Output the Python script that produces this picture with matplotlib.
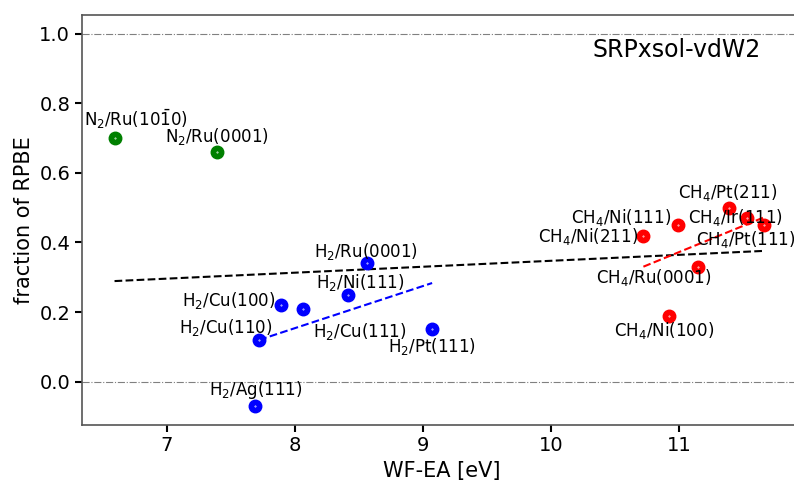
import matplotlib
matplotlib.use("Agg")
import matplotlib.pyplot as plt
import numpy as np

# ---------------- data ----------------
n2_labels = [r"N$_2$/Ru(10$\bar{1}$0)", r"N$_2$/Ru(0001)"]
n2_x = [6.59, 7.39]
n2_y = [0.70, 0.66]

h2_labels = [r"H$_2$/Ru(0001)", r"H$_2$/Ni(111)", r"H$_2$/Cu(100)", r"H$_2$/Cu(111)",
             r"H$_2$/Cu(110)", r"H$_2$/Pt(111)", r"H$_2$/Ag(111)"]
h2_x = [8.56, 8.41, 7.89, 8.06, 7.72, 9.07, 7.69]
h2_y = [0.34, 0.25, 0.22, 0.21, 0.12, 0.15, -0.07]

ch4_labels = [r"CH$_4$/Pt(211)", r"CH$_4$/Ir(111)", r"CH$_4$/Pt(111)", r"CH$_4$/Ni(111)",
              r"CH$_4$/Ni(211)", r"CH$_4$/Ru(0001)", r"CH$_4$/Ni(100)"]
ch4_x = [11.39, 11.53, 11.66, 10.99, 10.72, 11.15, 10.92]
ch4_y = [0.50, 0.47, 0.45, 0.45, 0.42, 0.33, 0.19]

# linear trend lines (slope, intercept)
all_fit = (0.0171, 0.1764)
h2_fit = (0.121, -0.814)
ch4_fit = (0.1506, -1.284)

# label offsets in pixels (dx, dy) relative to the point
n2_off = [(21, 12), (0, 10)]
h2_off = [(-1, 6), (13, 7), (-52, -1), (57, -28), (-33, 7), (0, -23), (0, 11)]
ch4_off = [(-1, 10), (-12, -5), (-18, -20), (-57, 2), (-55, -6), (-45, -16), (-5, -20)]

# ---------------- figure ----------------
fig = plt.figure(figsize=(7.94, 4.82), dpi=100)
ax = fig.add_axes([0.1033, 0.1189, 0.907, 0.85])

ax.axhline(1.0, color="gray", lw=0.8, ls="-.", zorder=1)
ax.axhline(0.0, color="gray", lw=0.8, ls="-.", zorder=1)

allx = np.array(n2_x + h2_x + ch4_x)
xx = np.array([allx.min(), allx.max()])
ax.plot(xx, all_fit[0] * xx + all_fit[1], ls="--", color="black", lw=1.5, zorder=2)

hx = np.array(h2_x[:-1])
xx = np.array([hx.min(), hx.max()])
ax.plot(xx, h2_fit[0] * xx + h2_fit[1], ls="--", color="blue", lw=1.5, zorder=2)

cx = np.array(ch4_x)
xx = np.array([cx.min(), cx.max()])
ax.plot(xx, ch4_fit[0] * xx + ch4_fit[1], ls="--", color="red", lw=1.5, zorder=2)

for xs, ys, col, labs, offs in [(n2_x, n2_y, "green", n2_labels, n2_off),
                                (h2_x, h2_y, "blue", h2_labels, h2_off),
                                (ch4_x, ch4_y, "red", ch4_labels, ch4_off)]:
    ax.plot(xs, ys, "o", color=col, ms=9, ls="none", zorder=3)
    ax.plot(xs, ys, ".", color="white", ms=0.8, ls="none", zorder=4)
    for x, y, lab, off in zip(xs, ys, labs, offs):
        ax.annotate(lab, (x, y), xytext=off, textcoords="offset pixels",
                    ha="center", va="baseline", fontsize=12, zorder=5,
                    annotation_clip=False)

ax.text(0.942, 0.898, "SRPxsol-vdW2", transform=ax.transAxes, ha="right",
        va="baseline", fontsize=17)

ax.set_xlim(6.336, 11.96)
ax.set_ylim(-0.1236, 1.0537)
ax.set_xticks([7, 8, 9, 10, 11])
ax.set_yticks([0.0, 0.2, 0.4, 0.6, 0.8, 1.0])
ax.tick_params(labelsize=14, width=1.5, length=5, color="black")
ax.set_xlabel("WF-EA [eV]", fontsize=15)
ax.set_ylabel("fraction of RPBE", fontsize=15)
for s in ax.spines.values():
    s.set_color("#555555")
    s.set_linewidth(1.2)

fig.savefig("out.png", dpi=100)
